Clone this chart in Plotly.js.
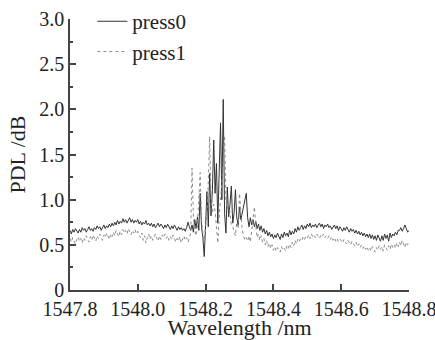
<!DOCTYPE html>
<html>
<head>
<meta charset="utf-8">
<script src="https://cdn.plot.ly/plotly-3.0.1.min.js"></script>
<style>
html,body{margin:0;padding:0;background:#fff;font-family:"Liberation Serif",serif;}
#chart{width:435px;height:340px;}
text{font-family:"Liberation Serif",serif !important;}
</style>
</head>
<body>
<div id="chart"></div>
<script>
// Wavelength grid (nm): start and sampling step
var wlStart = 1547.8;
var wlStep = 0.004;

// PDL (dB), one value per grid point
var press0 = [
0.66,0.62,0.67,0.64,0.68,0.65,0.63,0.67,0.64,0.69,
0.66,0.68,0.64,0.67,0.70,0.66,0.68,0.65,0.69,0.67,
0.71,0.68,0.70,0.66,0.69,0.72,0.68,0.71,0.69,0.73,
0.70,0.74,0.71,0.75,0.72,0.77,0.73,0.76,0.74,0.79,
0.75,0.78,0.74,0.77,0.80,0.75,0.78,0.74,0.77,0.75,
0.78,0.73,0.76,0.72,0.75,0.73,0.77,0.72,0.74,0.71,
0.74,0.70,0.73,0.69,0.72,0.74,0.70,0.73,0.71,0.68,
0.72,0.69,0.73,0.70,0.67,0.71,0.68,0.72,0.69,0.66,
0.70,0.67,0.69,0.66,0.68,0.65,0.69,0.75,0.70,0.66,
0.72,0.64,0.78,0.68,0.81,0.66,1.07,0.70,0.58,0.37,
0.72,1.09,0.70,1.29,0.82,1.10,1.66,1.07,1.40,0.74,
1.30,1.85,1.00,2.11,0.85,0.63,1.14,0.81,0.95,1.15,
0.74,0.85,1.11,0.80,0.72,0.92,0.78,0.86,0.93,1.00,
1.07,0.80,0.70,0.80,0.72,0.78,0.70,0.76,0.68,0.73,
0.66,0.71,0.64,0.68,0.62,0.66,0.60,0.64,0.59,0.62,
0.57,0.61,0.58,0.63,0.59,0.56,0.62,0.58,0.64,0.60,
0.63,0.59,0.66,0.61,0.65,0.62,0.68,0.64,0.70,0.66,
0.69,0.72,0.67,0.71,0.68,0.73,0.70,0.74,0.69,0.72,
0.70,0.73,0.69,0.72,0.74,0.70,0.73,0.68,0.72,0.70,
0.73,0.69,0.71,0.67,0.70,0.72,0.68,0.71,0.66,0.70,
0.68,0.65,0.69,0.66,0.70,0.67,0.64,0.68,0.65,0.67,
0.63,0.66,0.62,0.65,0.61,0.64,0.60,0.63,0.59,0.62,
0.58,0.62,0.57,0.61,0.56,0.60,0.55,0.61,0.57,0.54,
0.60,0.55,0.62,0.57,0.61,0.54,0.63,0.58,0.62,0.60,
0.64,0.61,0.66,0.66,0.69,0.65,0.68,0.72,0.68,0.64,
0.66
];

var press1 = [
0.57,0.53,0.58,0.55,0.51,0.56,0.59,0.54,0.57,0.52,
0.58,0.55,0.60,0.56,0.53,0.59,0.55,0.61,0.57,0.54,
0.60,0.57,0.62,0.58,0.55,0.61,0.58,0.63,0.59,0.56,
0.62,0.59,0.64,0.60,0.66,0.62,0.59,0.65,0.61,0.67,
0.63,0.66,0.62,0.68,0.64,0.61,0.66,0.63,0.67,0.62,
0.65,0.61,0.58,0.63,0.55,0.60,0.52,0.58,0.62,0.56,
0.60,0.55,0.59,0.62,0.57,0.54,0.60,0.56,0.61,0.58,
0.62,0.57,0.60,0.55,0.59,0.56,0.61,0.58,0.53,0.57,
0.54,0.59,0.52,0.57,0.60,0.55,0.58,0.53,0.57,0.63,
1.35,0.81,0.66,0.60,0.72,0.95,1.30,0.78,0.62,0.55,
0.68,0.85,1.20,1.70,1.00,0.85,0.95,0.88,0.70,0.52,
0.80,1.00,1.10,1.40,1.71,0.98,0.90,0.96,0.85,0.72,
0.70,0.63,0.60,0.75,0.68,1.07,0.80,0.66,0.60,0.55,
0.58,0.54,0.60,0.53,0.65,0.80,0.92,0.72,0.58,0.62,
0.55,0.60,0.53,0.57,0.50,0.55,0.48,0.52,0.46,0.50,
0.44,0.48,0.43,0.47,0.45,0.42,0.48,0.44,0.46,0.43,
0.49,0.46,0.51,0.47,0.53,0.49,0.55,0.51,0.56,0.53,
0.57,0.55,0.59,0.56,0.60,0.58,0.61,0.57,0.62,0.59,
0.61,0.58,0.62,0.60,0.57,0.61,0.59,0.62,0.58,0.60,
0.57,0.60,0.56,0.59,0.55,0.58,0.54,0.57,0.53,0.56,
0.55,0.52,0.56,0.53,0.51,0.55,0.52,0.50,0.54,0.51,
0.49,0.53,0.48,0.51,0.47,0.50,0.46,0.49,0.45,0.48,
0.44,0.47,0.43,0.48,0.45,0.42,0.47,0.44,0.49,0.45,
0.48,0.43,0.50,0.46,0.44,0.49,0.45,0.51,0.47,0.50,
0.46,0.52,0.48,0.53,0.49,0.55,0.51,0.47,0.53,0.50,
0.52
];

var seriesNames = ['press0', 'press1'];
var xTickVals = [1547.8, 1548.0, 1548.2, 1548.4, 1548.6, 1548.8];
var xTickText = ['1547.8', '1548.0', '1548.2', '1548.4', '1548.6', '1548.8'];
var yTickVals = [0, 0.5, 1.0, 1.5, 2.0, 2.5, 3.0];
var yTickText = ['0', '0.5', '1.0', '1.5', '2.0', '2.5', '3.0'];

var wavelength = press0.map(function (_, i) { return +(wlStart + i * wlStep).toFixed(3); });

var SERIF = 'Liberation Serif';

var traces = [
  { x: wavelength, y: press0, name: seriesNames[0], type: 'scatter', mode: 'lines',
    line: { color: '#333333', width: 1 } },
  { x: wavelength, y: press1, name: seriesNames[1], type: 'scatter', mode: 'lines',
    line: { color: '#8a8a8a', width: 1, dash: 'dot' } }
];

var layout = {
  width: 435, height: 340,
  margin: { l: 70, r: 26, t: 19, b: 50, autoexpand: false },
  paper_bgcolor: '#ffffff', plot_bgcolor: '#ffffff',
  font: { family: SERIF, size: 20, color: '#222' },
  showlegend: true,
  legend: { x: 0.066, y: 1.066, xanchor: 'left', yanchor: 'top', bgcolor: 'rgba(0,0,0,0)',
            font: { family: SERIF, size: 21, color: '#222' }, tracegroupgap: 0 },
  xaxis: {
    range: [1547.8, 1548.8], tickmode: 'array', tickvals: xTickVals, ticktext: xTickText,
    ticklabeloverflow: 'allow',
    ticks: 'inside', ticklen: 6, tickwidth: 1.5, tickcolor: '#444',
    showline: true, linecolor: '#444', linewidth: 1.5, showgrid: false, zeroline: false,
    tickfont: { family: SERIF, size: 20, color: '#222' },
    title: { text: 'Wavelength /nm', font: { family: SERIF, size: 22, color: '#222' }, standoff: 2 }
  },
  yaxis: {
    range: [0, 3.0], tickmode: 'array', tickvals: yTickVals, ticktext: yTickText,
    ticks: 'inside', ticklen: 6, tickwidth: 1.5, tickcolor: '#444',
    minor: { ticks: 'inside', ticklen: 3, dtick: 0.25, tickcolor: '#444', showgrid: false },
    showline: true, linecolor: '#444', linewidth: 1.5, showgrid: false, zeroline: false,
    tickfont: { family: SERIF, size: 20, color: '#222' },
    title: { text: 'PDL /dB', font: { family: SERIF, size: 22, color: '#222' }, standoff: 8 }
  }
};

Plotly.newPlot('chart', traces, layout, { displayModeBar: false });
</script>
</body>
</html>
